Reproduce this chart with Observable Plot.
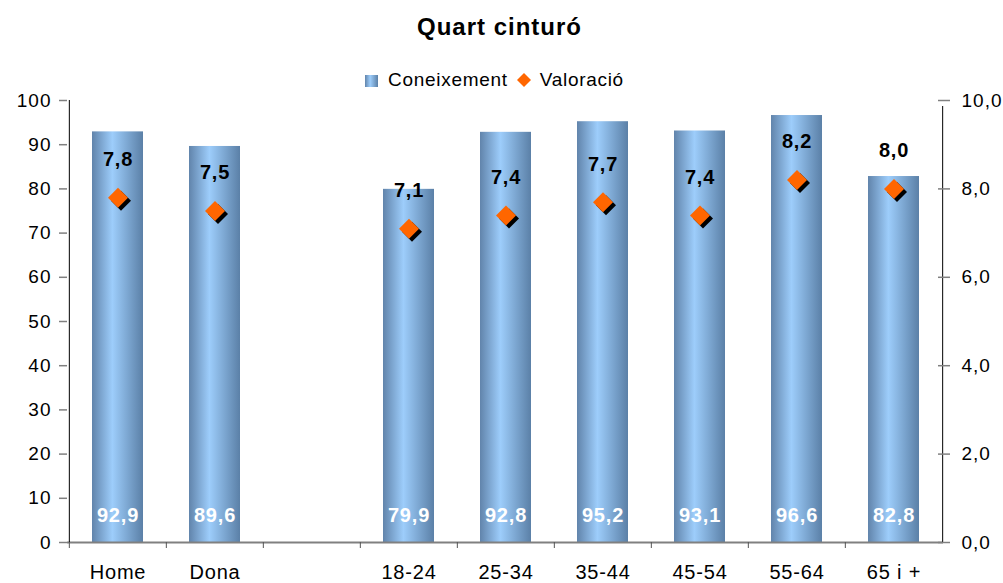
<!DOCTYPE html>
<html><head><meta charset="utf-8">
<script src="https://cdn.jsdelivr.net/npm/d3@7"></script>
<script src="https://cdn.jsdelivr.net/npm/@observablehq/plot@0.6"></script>
<style>
body{margin:0;background:#fff;font-family:"Liberation Sans",Arial,sans-serif;color:#000;}
#title{height:54px;line-height:54px;text-align:center;font-weight:bold;font-size:24px;letter-spacing:1px;padding-right:4px;}
#legend{height:22px;line-height:22px;padding-top:15px;text-align:center;font-size:19px;letter-spacing:0.7px;padding-right:14px;white-space:nowrap;}
#legend .sq{display:inline-block;width:13px;height:12px;vertical-align:-1px;margin-right:10px;background:linear-gradient(to right,#6184ab,#9dcdfb 40%,#5b80a7);}
#legend .dm{display:inline-block;vertical-align:-1px;margin:0 9px 0 9px;}
#chart svg{display:block;}
#chart g[aria-label="y-axis tick label"] text{letter-spacing:1px;}
#chart g[aria-label="x-axis tick label"] text{letter-spacing:0.8px;}
#chart g[aria-label="text"] text{letter-spacing:0.8px;}
</style></head>
<body>
<div id="title">Quart cinturó</div>
<div id="legend"><span class="sq"></span>Coneixement<svg class="dm" width="14" height="14"><path d="M7,0L14,7L7,14L0,7Z" fill="#ff6600"/></svg>Valoració</div>
<div id="chart"></div>
<script>
const categories = ["Home","Dona"," ","18-24","25-34","35-44","45-54","55-64","65 i +"];
const coneixement = [92.9,89.6,null,79.9,92.8,95.2,93.1,96.6,82.8];
const valoracio = [7.8,7.5,null,7.1,7.4,7.7,7.4,8.2,8.0];
const leftTicks = [0,10,20,30,40,50,60,70,80,90,100];
const rightTicks = [0,2,4,6,8,10];

const W = 1003, H = 491, ML = 67, MR = 60, MT = 9, MB = 40;
const step = (W - ML - MR) / categories.length;
const fmt1 = v => v.toFixed(1).replace(".", ",");
const data = categories.map((c,i)=>({cat:c, con:coneixement[i], val:valoracio[i]})).filter(d=>d.con!=null);

const chart = Plot.plot({
  width: W, height: H, marginLeft: ML, marginRight: MR, marginTop: MT, marginBottom: MB,
  style: {fontFamily: '"Liberation Sans", Arial, sans-serif', fontSize: "19px", color: "#000", background: "transparent", overflow: "visible"},
  x: {type: "band", domain: categories, paddingInner: 0.475, paddingOuter: 0.2375, label: null},
  y: {domain: [0, 100], label: null},
  marks: [
    Plot.barY(data, {x: "cat", y: "con", fill: "url(#barGrad)"}),
    Plot.ruleY([0], {stroke: "#808080", strokeWidth: 2}),
    Plot.ruleX(categories, {x: d => d, dx: -step/2, y1: 0, y2: 0, insetBottom: -6, stroke: "#555"}),
    Plot.ruleX([categories[0]], {x: d => d, dx: -step/2, y1: 0, y2: 100, stroke: "#000"}),
    Plot.ruleX([categories[categories.length-1]], {x: d => d, dx: step/2, y1: 0, y2: 100, insetBottom: -6, stroke: "#000"}),
    Plot.axisY({anchor: "left", ticks: leftTicks, tickSize: 8, tickPadding: 8, stroke: "#808080", strokeWidth: 1.5, fontSize: 19, label: null}),
    Plot.axisY({anchor: "right", ticks: rightTicks.map(d => d*10), tickFormat: d => fmt1(d/10), tickSize: 6, tickPadding: 12, stroke: "#808080", strokeWidth: 1.5, fontSize: 19, label: null}),
    Plot.axisY({anchor: "right", ticks: rightTicks.map(d => d*10), tickFormat: () => "", tickSize: -6, stroke: "#808080", strokeWidth: 1.5, label: null}),
    Plot.axisX({ticks: categories, tickSize: 0, tickPadding: 22, tickFormat: d => d.trim(), fontSize: 20, label: null}),
    Plot.dot(data, {x: "cat", y: d => d.val*10, symbol: "diamond2", r: 9, fill: "#000", stroke: null, dx: 3, dy: 3}),
    Plot.dot(data, {x: "cat", y: d => d.val*10, symbol: "diamond2", r: 9, fill: "#ff6600", stroke: null}),
    Plot.text(data, {x: "cat", y: d => d.val*10, text: d => fmt1(d.val), dy: -38, fontWeight: "bold", fontSize: 20, fill: "#000"}),
    Plot.text(data, {x: "cat", y: 0, text: d => fmt1(d.con), dy: -27, fontWeight: "bold", fontSize: 20, fill: "#fff"})
  ]
});
const defs = d3.select(chart).insert("defs", ":first-child");
const g = defs.append("linearGradient").attr("id", "barGrad").attr("x1", 0).attr("x2", 1).attr("y1", 0).attr("y2", 0);
g.append("stop").attr("offset", 0).attr("stop-color", "#6184ab");
g.append("stop").attr("offset", 0.4).attr("stop-color", "#9dcdfb");
g.append("stop").attr("offset", 1).attr("stop-color", "#5b80a7");
document.getElementById("chart").appendChild(chart);
</script>
</body></html>
